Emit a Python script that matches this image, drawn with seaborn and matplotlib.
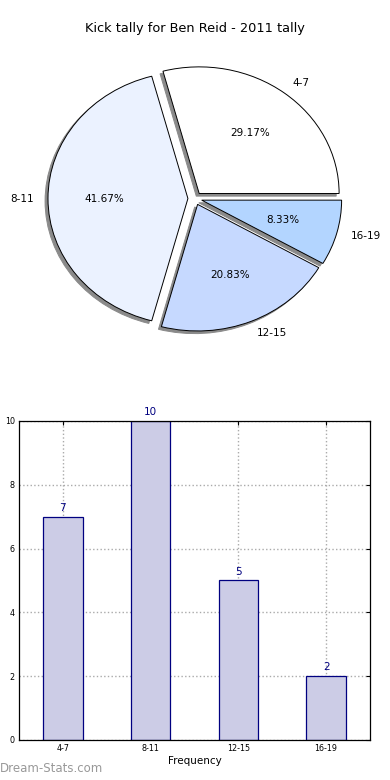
import pandas as pd
import matplotlib
matplotlib.use("Agg")
import matplotlib.pyplot as plt
import seaborn as sns

# kick tally data
ranges = ["4-7", "8-11", "12-15", "16-19"]
games = [7, 10, 5, 2]
pie_colors = ["#FFFFFF", "#EBF2FF", "#C6D9FF", "#B3D5FF"]

sns.set_style("white")
plt.rcParams['font.family'] = ['DejaVu Sans']
plt.rcParams['text.color'] = 'black'
plt.rcParams['axes.labelcolor'] = 'black'

fig = plt.figure(figsize=(3.9, 7.8), dpi=100)

# 1. pie chart (old style, not forced round)
ax_pie = fig.add_axes([0.0513, 0.5426, 0.897, 0.4058])
wedges, texts, autotexts = ax_pie.pie(
    games, labels=ranges, colors=pie_colors, explode=[0.05] * 4,
    autopct="%.2f%%", startangle=0,
    shadow={"ox": -0.015, "oy": -0.015, "facecolor": "#8a8a8a",
            "edgecolor": "#8a8a8a", "alpha": 1},
    wedgeprops={"edgecolor": "black", "linewidth": 0.7},
    textprops={"fontsize": 7.5, "color": "black"})
ax_pie.set_aspect("auto")
ax_pie.set_xlim(-1.25, 1.25)
ax_pie.set_ylim(-1.25, 1.25)
ax_pie.set_title("Kick tally for Ben Reid - 2011 tally", fontsize=9.3, pad=6, color="black")

# 2. bar chart
ax_bar = fig.add_axes([0.0487, 0.0513, 0.9, 0.409])
df = pd.DataFrame({"range": ranges, "games": games})
sns.barplot(data=df, x="range", y="games", color="#CCCCE6", edgecolor="#000080",
            linewidth=0.9, width=0.45, saturation=1, ax=ax_bar, zorder=2)
for i, v in enumerate(games):
    ax_bar.text(i, v + 0.12, str(v), ha="center", va="bottom", color="#000080", fontsize=7.5)
ax_bar.set_xlim(-0.5, 3.5)
ax_bar.set_ylim(0, 10)
ax_bar.set_yticks(range(0, 11, 2))
ax_bar.grid(True, linestyle=":", color="#aaaaaa", linewidth=1, zorder=0)
ax_bar.set_axisbelow(True)
ax_bar.tick_params(direction="in", length=3, labelsize=5.8, top=True, right=True,
                   colors="black", pad=3)
for s in ax_bar.spines.values():
    s.set_color("black")
    s.set_linewidth(0.9)
ax_bar.set_xlabel("Frequency", fontsize=7.5, labelpad=2)
ax_bar.set_ylabel("Occurrences", fontsize=7.5)
ax_bar.yaxis.set_label_coords(-0.058, 0.5)

fig.text(0.0, 0.006, "Dream-Stats.com", color="#999999", fontsize=8.5, ha="left", va="bottom")

fig.savefig("out.png", dpi=100)
